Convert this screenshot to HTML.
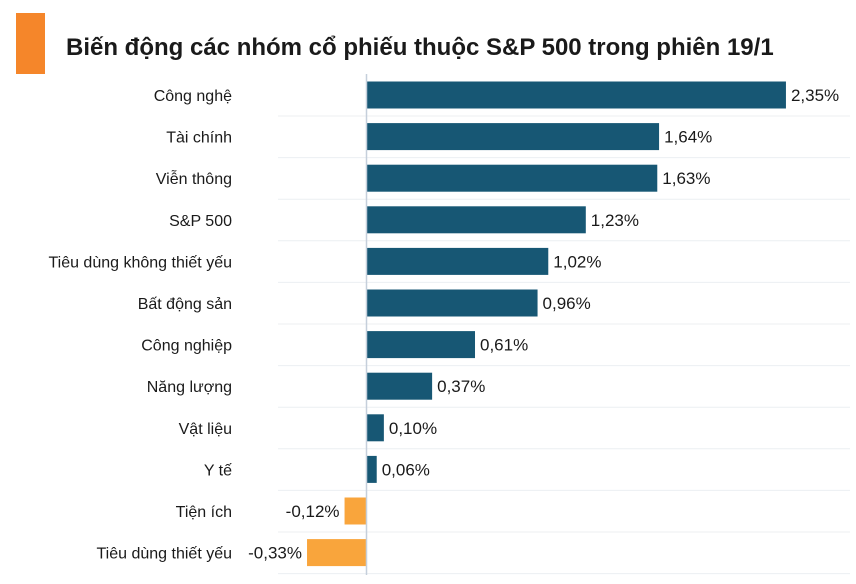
<!DOCTYPE html>
<html><head><meta charset="utf-8"><style>
body{margin:0;background:#fff;width:856px;height:579px;overflow:hidden;font-family:"Liberation Sans","DejaVu Sans",sans-serif;}
</style></head><body>
<svg width="856" height="579" xmlns="http://www.w3.org/2000/svg" font-family="Liberation Sans, DejaVu Sans, sans-serif">
<rect x="16" y="13" width="29" height="61" fill="#f5862a"/>
<text x="66" y="55" font-size="24" font-weight="bold" fill="#1a1a1a">Biến động các nhóm cổ phiếu thuộc S&amp;P 500 trong phiên 19/1</text>
<g id="rows"></g>
<line x1="366.5" y1="74" x2="366.5" y2="575" stroke="#c5cfdb" stroke-width="1.5"/>
</svg>
<script>
var d=[["Công nghệ",2.35],["Tài chính",1.64],["Viễn thông",1.63],["S&P 500",1.23],["Tiêu dùng không thiết yếu",1.02],["Bất động sản",0.96],["Công nghiệp",0.61],["Năng lượng",0.37],["Vật liệu",0.10],["Y tế",0.06],["Tiện ích",-0.12],["Tiêu dùng thiết yếu",-0.33]];
var g=document.getElementById("rows"),h="",x0=366,s=178.7;
d.forEach(function(r,i){
 var cy=95+i*41.6, w=Math.abs(r[1])*s, neg=r[1]<0;
 var lbl=r[1].toFixed(2).replace(".",",")+"%";
 h+='<line x1="278" y1="'+(cy+21)+'" x2="850" y2="'+(cy+21)+'" stroke="#eceff2"/>';
 h+='<text x="232" y="'+(cy+6)+'" font-size="16" text-anchor="end" fill="#1a1a1a">'+r[0].replace("&","&amp;")+'</text>';
 if(neg){
  h+='<rect x="'+(x0-w)+'" y="'+(cy-13.5)+'" width="'+w+'" height="27" fill="#f9a53c"/>';
  h+='<text x="'+(x0-w-5)+'" y="'+(cy+6)+'" font-size="17" text-anchor="end" fill="#1a1a1a">'+lbl+'</text>';
 }else{
  h+='<rect x="'+x0+'" y="'+(cy-13.5)+'" width="'+w+'" height="27" fill="#175774"/>';
  h+='<text x="'+(x0+w+5)+'" y="'+(cy+6)+'" font-size="17" fill="#1a1a1a">'+lbl+'</text>';
 }
});
g.innerHTML=h;
</script>
</body></html>
